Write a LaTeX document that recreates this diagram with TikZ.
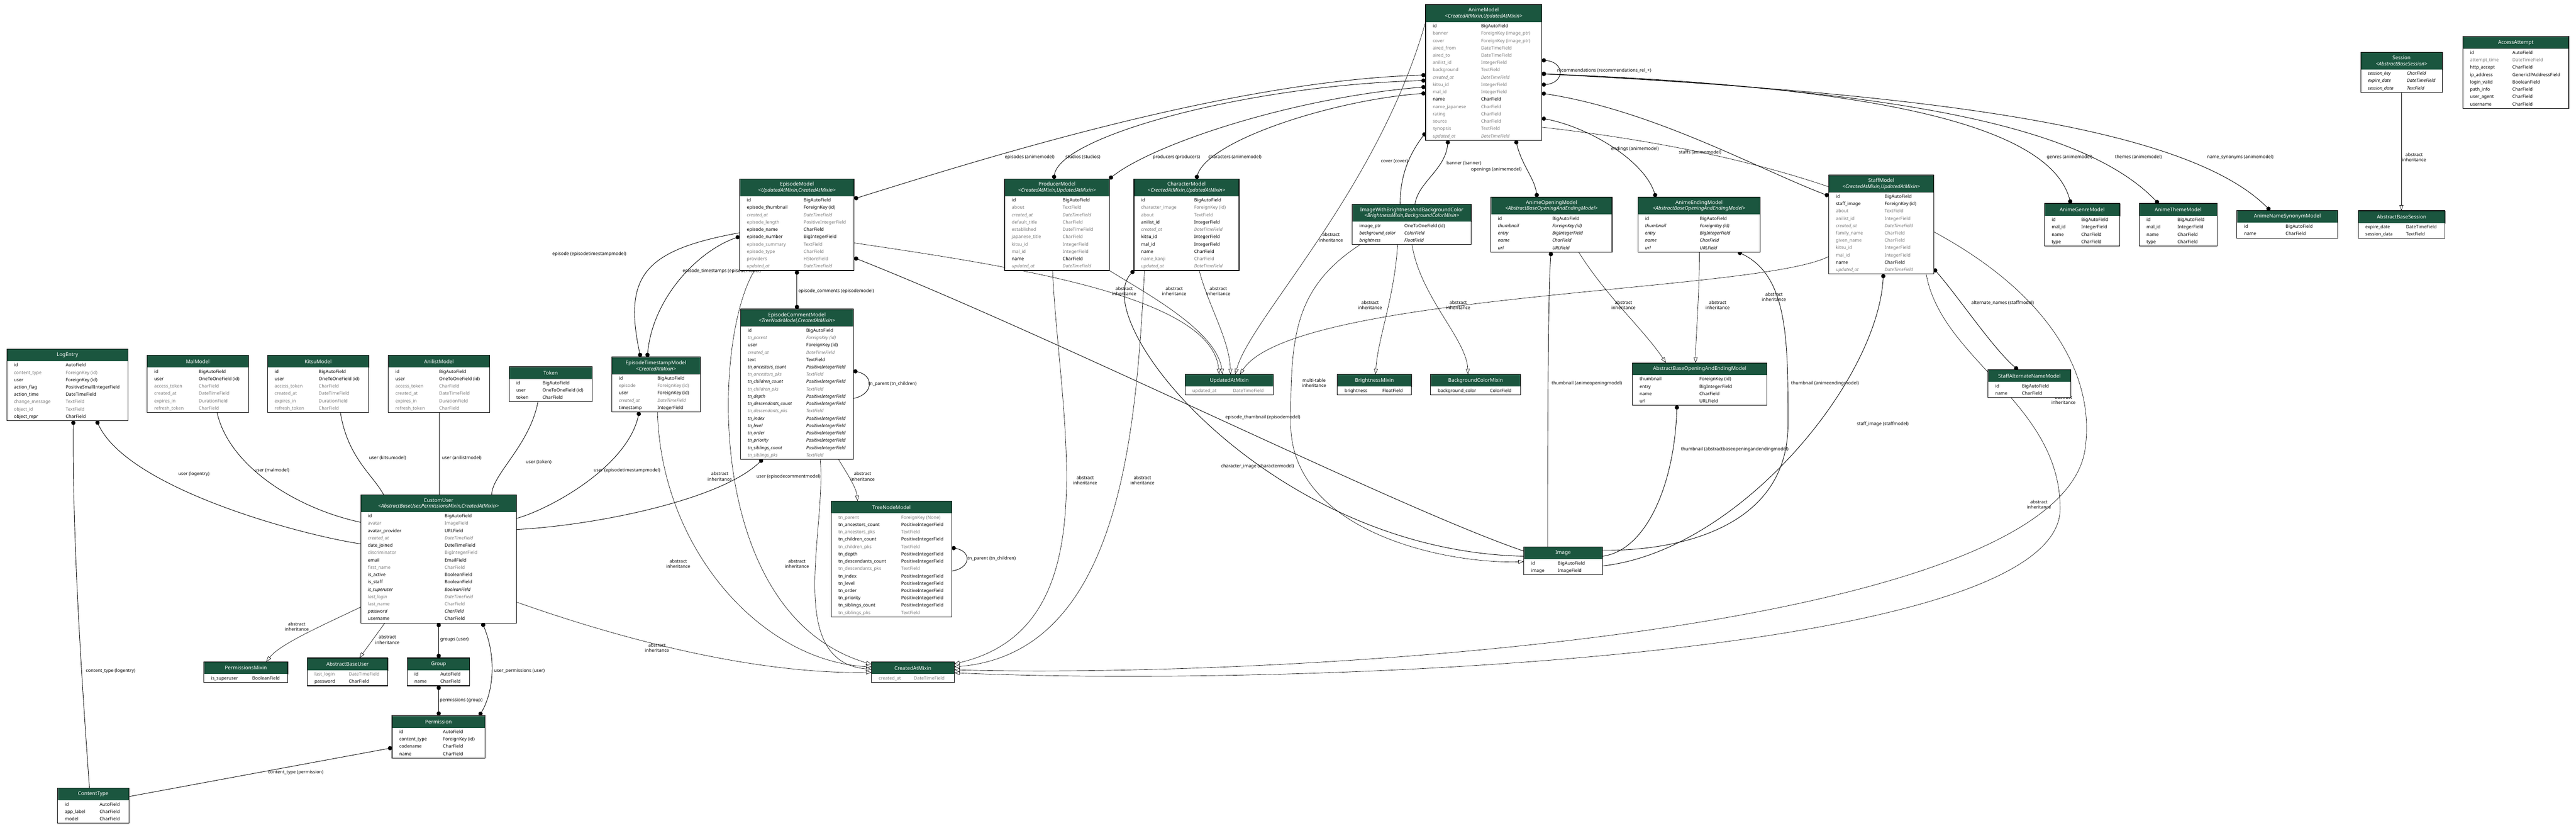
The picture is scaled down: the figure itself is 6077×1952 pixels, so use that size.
\documentclass[tikz,border=0pt]{standalone}
\usepackage{fontspec}
\setmainfont{Noto Sans}
\usepackage{array}
\usetikzlibrary{positioning,arrows.meta,backgrounds}

\definecolor{hdrgreen}{HTML}{1B563F}
\definecolor{fieldgrey}{HTML}{7B7B7B}

% field rows: n normal, b bold, i italic, g grey
\newcommand{\Fn}[2]{\mbox{#1} & \mbox{#2}\\}
\newcommand{\Fb}[2]{\mbox{\bfseries #1} & \mbox{\bfseries #2}\\}
\newcommand{\Fi}[2]{\mbox{\itshape #1} & \mbox{\itshape #2}\\}
\newcommand{\Fbi}[2]{\mbox{\bfseries\itshape #1} & \mbox{\bfseries\itshape #2}\\}
\newcommand{\Fg}[2]{\mbox{\color{fieldgrey}#1} & \mbox{\color{fieldgrey}#2}\\}
\newcommand{\Fgb}[2]{\mbox{\color{fieldgrey}\bfseries #1} & \mbox{\color{fieldgrey}\bfseries #2}\\}
\newcommand{\Fgi}[2]{\mbox{\color{fieldgrey}\itshape #1} & \mbox{\color{fieldgrey}\itshape #2}\\}
\newcommand{\Fgbi}[2]{\mbox{\color{fieldgrey}\bfseries\itshape #1} & \mbox{\color{fieldgrey}\bfseries\itshape #2}\\}
\newcommand{\oauthrows}{\Fb{id}{BigAutoField}\Fb{user}{OneToOneField (id)}\Fg{access\_token}{CharField}%
  \Fg{created\_at}{DateTimeField}\Fg{expires\_in}{DurationField}\Fg{refresh\_token}{CharField}}

% #1 name  #2 left  #3 top  #4 width  #5 type column  #6 header height  #7 header  #8 fields
\newcommand{\dbtable}[8]{%
  \node[tblhead, minimum width=#4pt, minimum height=#6pt] (#1) at (#2,#3) {#7};
  \node[tblbody, below=0pt of #1] (#1B) {\begin{tabular}{@{\hspace{17pt}}p{\dimexpr#5pt-17pt\relax}@{}p{\dimexpr#4pt-#5pt\relax}@{}}#8\end{tabular}};
  \draw[tblframe] (#1.north west) rectangle (#1B.south east);
}

\tikzset{
  tblhead/.style={anchor=north west, fill=hdrgreen, draw=black!50, text=white, align=center,
    inner xsep=1pt, inner ysep=1pt, outer sep=0pt, font=\fontsize{12}{14}\selectfont\bfseries},
  tblbody/.style={fill=white, inner xsep=0pt, inner ysep=1pt, outer sep=0pt,
    font=\fontsize{10.7}{17.3}\selectfont},
  tblframe/.style={line width=1.4pt, black},
  rel/.style={line width=1.1pt},
  fk/.style={rel, arrows={Circle[length=10pt]-}},
  m2m/.style={rel, arrows={Circle[length=10pt]-Circle[length=10pt]}},
  onetoone/.style={rel},
  inherit/.style={line width=0.8pt, arrows={-Triangle[open, length=13pt, width=9pt]}},
  lbl/.style={font=\fontsize{10.7}{12.5}\selectfont, inner sep=0pt, align=center},
}

\begin{document}
\begin{tikzpicture}[x=1pt, y=-1pt]
  \useasboundingbox (0,0) rectangle (6077,1952);

  % anime app
  \dbtable{anime}{3363}{11}{274}{131}{41}{AnimeModel\\{\itshape <CreatedAtMixin,UpdatedAtMixin>}}{%
    \Fb{id}{BigAutoField}
    \Fgb{banner}{ForeignKey (image\_ptr)}
    \Fgb{cover}{ForeignKey (image\_ptr)}
    \Fg{aired\_from}{DateTimeField}
    \Fg{aired\_to}{DateTimeField}
    \Fg{anilist\_id}{IntegerField}
    \Fg{background}{TextField}
    \Fgi{created\_at}{DateTimeField}
    \Fg{kitsu\_id}{IntegerField}
    \Fg{mal\_id}{IntegerField}
    \Fn{name}{CharField}
    \Fg{name\_japanese}{CharField}
    \Fg{rating}{CharField}
    \Fg{source}{CharField}
    \Fg{synopsis}{TextField}
    \Fgi{updated\_at}{DateTimeField}}
  \dbtable{episode}{1745}{422}{270}{151}{41}{EpisodeModel\\{\itshape <UpdatedAtMixin,CreatedAtMixin>}}{%
    \Fb{id}{BigAutoField}
    \Fb{episode\_thumbnail}{ForeignKey (id)}
    \Fgi{created\_at}{DateTimeField}
    \Fg{episode\_length}{PositiveIntegerField}
    \Fn{episode\_name}{CharField}
    \Fn{episode\_number}{BigIntegerField}
    \Fg{episode\_summary}{TextField}
    \Fg{episode\_type}{CharField}
    \Fg{providers}{HStoreField}
    \Fgi{updated\_at}{DateTimeField}}
  \dbtable{producer}{2370}{422}{247}{137}{41}{ProducerModel\\{\itshape <CreatedAtMixin,UpdatedAtMixin>}}{%
    \Fb{id}{BigAutoField}
    \Fg{about}{TextField}
    \Fgi{created\_at}{DateTimeField}
    \Fg{default\_title}{CharField}
    \Fg{established}{DateTimeField}
    \Fg{japanese\_title}{CharField}
    \Fg{kitsu\_id}{IntegerField}
    \Fg{mal\_id}{IntegerField}
    \Fn{name}{CharField}
    \Fgi{updated\_at}{DateTimeField}}
  \dbtable{character}{2675}{422}{248}{142}{41}{CharacterModel\\{\itshape <CreatedAtMixin,UpdatedAtMixin>}}{%
    \Fb{id}{BigAutoField}
    \Fgb{character\_image}{ForeignKey (id)}
    \Fg{about}{TextField}
    \Fn{anilist\_id}{IntegerField}
    \Fgi{created\_at}{DateTimeField}
    \Fn{kitsu\_id}{IntegerField}
    \Fn{mal\_id}{IntegerField}
    \Fn{name}{CharField}
    \Fg{name\_kanji}{CharField}
    \Fgi{updated\_at}{DateTimeField}}
  \dbtable{imgbright}{3190}{482}{281}{123}{41}{ImageWithBrightnessAndBackgroundColor\\{\itshape <BrightnessMixin,BackgroundColorMixin>}}{%
    \Fb{image\_ptr}{OneToOneField (id)}
    \Fi{background\_color}{ColorField}
    \Fi{brightness}{FloatField}}
  \dbtable{opening}{3517}{465}{286}{145}{41}{AnimeOpeningModel\\{\itshape <AbstractBaseOpeningAndEndingModel>}}{%
    \Fb{id}{BigAutoField}
    \Fbi{thumbnail}{ForeignKey (id)}
    \Fi{entry}{BigIntegerField}
    \Fi{name}{CharField}
    \Fi{url}{URLField}}
  \dbtable{ending}{3864}{465}{288}{146}{41}{AnimeEndingModel\\{\itshape <AbstractBaseOpeningAndEndingModel>}}{%
    \Fb{id}{BigAutoField}
    \Fbi{thumbnail}{ForeignKey (id)}
    \Fi{entry}{BigIntegerField}
    \Fi{name}{CharField}
    \Fi{url}{URLField}}
  \dbtable{staff}{4314}{413}{248}{132}{41}{StaffModel\\{\itshape <CreatedAtMixin,UpdatedAtMixin>}}{%
    \Fb{id}{BigAutoField}
    \Fb{staff\_image}{ForeignKey (id)}
    \Fg{about}{TextField}
    \Fg{anilist\_id}{IntegerField}
    \Fgi{created\_at}{DateTimeField}
    \Fg{family\_name}{CharField}
    \Fg{given\_name}{CharField}
    \Fg{kitsu\_id}{IntegerField}
    \Fg{mal\_id}{IntegerField}
    \Fn{name}{CharField}
    \Fgi{updated\_at}{DateTimeField}}
  \dbtable{genre}{4823}{480}{178}{87}{29}{AnimeGenreModel}{%
    \Fb{id}{BigAutoField}\Fn{mal\_id}{IntegerField}\Fn{name}{CharField}\Fn{type}{CharField}}
  \dbtable{theme}{5047}{480}{183}{90}{29}{AnimeThemeModel}{%
    \Fb{id}{BigAutoField}\Fn{mal\_id}{IntegerField}\Fn{name}{CharField}\Fn{type}{CharField}}
  \dbtable{synonym}{5277}{496}{238}{115}{29}{AnimeNameSynonymModel}{%
    \Fb{id}{BigAutoField}\Fn{name}{CharField}}
  \dbtable{staffalt}{4690}{872}{195}{80}{29}{StaffAlternateNameModel}{%
    \Fb{id}{BigAutoField}\Fn{name}{CharField}}
  \dbtable{baseopen}{3851}{856}{317}{158}{29}{AbstractBaseOpeningAndEndingModel}{%
    \Fb{thumbnail}{ForeignKey (id)}\Fn{entry}{BigIntegerField}\Fn{name}{CharField}\Fn{url}{URLField}}
  \dbtable{image}{3595}{1290}{185}{80}{29}{Image}{%
    \Fb{id}{BigAutoField}\Fn{image}{ImageField}}
  \dbtable{updated}{2796}{883}{208}{113}{29}{UpdatedAtMixin}{\Fg{updated\_at}{DateTimeField}}
  \dbtable{brightness}{3155}{883}{175}{106}{29}{BrightnessMixin}{\Fn{brightness}{FloatField}}
  \dbtable{bgcolor}{3375}{883}{212}{140}{29}{BackgroundColorMixin}{\Fn{background\_color}{ColorField}}

  % sessions and axes
  \dbtable{session}{5569}{123}{193}{109}{41}{Session\\{\itshape <AbstractBaseSession>}}{%
    \Fbi{session\_key}{CharField}\Fi{expire\_date}{DateTimeField}\Fi{session\_data}{TextField}}
  \dbtable{basesession}{5563}{497}{205}{113}{29}{AbstractBaseSession}{%
    \Fn{expire\_date}{DateTimeField}\Fn{session\_data}{TextField}}
  \dbtable{access}{5810}{86}{250}{117}{29}{AccessAttempt}{%
    \Fb{id}{AutoField}
    \Fg{attempt\_time}{DateTimeField}
    \Fn{http\_accept}{CharField}
    \Fn{ip\_address}{GenericIPAddressField}
    \Fn{login\_valid}{BooleanField}
    \Fn{path\_info}{CharField}
    \Fn{user\_agent}{CharField}
    \Fn{username}{CharField}}

  % users, comments, admin
  \dbtable{logentry}{16}{823}{286}{139}{29}{LogEntry}{%
    \Fb{id}{AutoField}
    \Fg{content\_type}{ForeignKey (id)}
    \Fb{user}{ForeignKey (id)}
    \Fn{action\_flag}{PositiveSmallIntegerField}
    \Fn{action\_time}{DateTimeField}
    \Fg{change\_message}{TextField}
    \Fg{object\_id}{TextField}
    \Fn{object\_repr}{CharField}}
  \dbtable{mal}{347}{838}{239}{122}{29}{MalModel}{\oauthrows}
  \dbtable{kitsu}{631}{838}{239}{121}{29}{KitsuModel}{\oauthrows}
  \dbtable{anilist}{916}{838}{239}{120}{29}{AnilistModel}{\oauthrows}
  \dbtable{token}{1201}{865}{196}{79}{29}{Token}{%
    \Fn{id}{BigAutoField}\Fb{user}{OneToOneField (id)}\Fn{token}{CharField}}
  \dbtable{timestamp}{1443}{842}{209}{108}{41}{EpisodeTimestampModel\\{\itshape <CreatedAtMixin>}}{%
    \Fb{id}{BigAutoField}
    \Fgb{episode}{ForeignKey (id)}
    \Fb{user}{ForeignKey (id)}
    \Fgi{created\_at}{DateTimeField}
    \Fn{timestamp}{IntegerField}}
  \dbtable{comment}{1747}{729}{266}{155}{41}{EpisodeCommentModel\\{\itshape <TreeNodeModel,CreatedAtMixin>}}{%
    \Fb{id}{BigAutoField}
    \Fgbi{tn\_parent}{ForeignKey (id)}
    \Fb{user}{ForeignKey (id)}
    \Fgi{created\_at}{DateTimeField}
    \Fn{text}{TextField}
    \Fi{tn\_ancestors\_count}{PositiveIntegerField}
    \Fgi{tn\_ancestors\_pks}{TextField}
    \Fi{tn\_children\_count}{PositiveIntegerField}
    \Fgi{tn\_children\_pks}{TextField}
    \Fi{tn\_depth}{PositiveIntegerField}
    \Fi{tn\_descendants\_count}{PositiveIntegerField}
    \Fgi{tn\_descendants\_pks}{TextField}
    \Fi{tn\_index}{PositiveIntegerField}
    \Fi{tn\_level}{PositiveIntegerField}
    \Fi{tn\_order}{PositiveIntegerField}
    \Fi{tn\_priority}{PositiveIntegerField}
    \Fi{tn\_siblings\_count}{PositiveIntegerField}
    \Fgi{tn\_siblings\_pks}{TextField}}
  \dbtable{treenode}{1961}{1182}{284}{165}{29}{TreeNodeModel}{%
    \Fgb{tn\_parent}{ForeignKey (None)}
    \Fn{tn\_ancestors\_count}{PositiveIntegerField}
    \Fg{tn\_ancestors\_pks}{TextField}
    \Fn{tn\_children\_count}{PositiveIntegerField}
    \Fg{tn\_children\_pks}{TextField}
    \Fn{tn\_depth}{PositiveIntegerField}
    \Fn{tn\_descendants\_count}{PositiveIntegerField}
    \Fg{tn\_descendants\_pks}{TextField}
    \Fn{tn\_index}{PositiveIntegerField}
    \Fn{tn\_level}{PositiveIntegerField}
    \Fn{tn\_order}{PositiveIntegerField}
    \Fn{tn\_priority}{PositiveIntegerField}
    \Fn{tn\_siblings\_count}{PositiveIntegerField}
    \Fg{tn\_siblings\_pks}{TextField}}
  \dbtable{created}{2056}{1561}{195}{100}{29}{CreatedAtMixin}{\Fg{created\_at}{DateTimeField}}
  \dbtable{customuser}{851}{1167}{367}{198}{41}{CustomUser\\{\itshape <AbstractBaseUser,PermissionsMixin,CreatedAtMixin>}}{%
    \Fb{id}{BigAutoField}
    \Fg{avatar}{ImageField}
    \Fn{avatar\_provider}{URLField}
    \Fgi{created\_at}{DateTimeField}
    \Fn{date\_joined}{DateTimeField}
    \Fg{discriminator}{BigIntegerField}
    \Fn{email}{EmailField}
    \Fg{first\_name}{CharField}
    \Fn{is\_active}{BooleanField}
    \Fn{is\_staff}{BooleanField}
    \Fi{is\_superuser}{BooleanField}
    \Fgi{last\_login}{DateTimeField}
    \Fg{last\_name}{CharField}
    \Fi{password}{CharField}
    \Fn{username}{CharField}}
  \dbtable{permmixin}{481}{1561}{198}{114}{29}{PermissionsMixin}{\Fn{is\_superuser}{BooleanField}}
  \dbtable{abuser}{725}{1552}{190}{98}{29}{AbstractBaseUser}{%
    \Fg{last\_login}{DateTimeField}\Fn{password}{CharField}}
  \dbtable{group}{961}{1552}{147}{78}{29}{Group}{\Fb{id}{AutoField}\Fn{name}{CharField}}
  \dbtable{permission}{925}{1688}{219}{120}{29}{Permission}{%
    \Fb{id}{AutoField}\Fb{content\_type}{ForeignKey (id)}\Fn{codename}{CharField}\Fn{name}{CharField}}
  \dbtable{contenttype}{136}{1859}{168}{99}{29}{ContentType}{%
    \Fb{id}{AutoField}\Fn{app\_label}{CharField}\Fn{model}{CharField}}

  \begin{scope}[on background layer]
    \fill[white] (0,0) rectangle (6077,1952);

    % relations of AnimeModel
    \draw[m2m] (episodeB.east |- 0,469) .. controls (2300,380) and (2900,190) .. (animeB.west |- 0,177)
      node[lbl, at={(2370,371)}, anchor=west] {episodes (animemodel)};
    \draw[m2m] (producer.north -| 2486,0) .. controls (2500,320) and (2950,200) .. (animeB.west |- 0,190)
      node[lbl, at={(2513,371)}, anchor=west] {studios (studios)};
    \draw[m2m] (producer.north east) .. controls (2720,340) and (3050,230) .. (animeB.west |- 0,205)
      node[lbl, at={(2719,371)}, anchor=west] {producers (producers)};
    \draw[m2m] (character.north -| 2822,0) .. controls (2850,330) and (3150,235) .. (animeB.west |- 0,220)
      node[lbl, at={(2850,371)}, anchor=west] {characters (animemodel)};
    \draw[fk] (animeB.west |- 0,313) .. controls (3320,370) and (3303,420) .. (imgbright.north -| 3303,0)
      node[lbl, at={(3322,380)}, anchor=east] {cover (cover)};
    \draw[fk] (animeB.south -| 3416,0) .. controls (3410,400) and (3345,430) .. (imgbright.north -| 3338,0)
      node[lbl, at={(3412,385)}, anchor=west] {banner (banner)};
    \draw[m2m] (animeB.south -| 3576,0) .. controls (3590,390) and (3620,420) .. (opening.north -| 3626,0)
      node[lbl, at={(3590,400)}, anchor=east] {openings (animemodel)};
    \draw[m2m] (animeB.east |- 0,279) .. controls (3750,300) and (3880,380) .. (ending.north -| 3906,0)
      node[lbl, at={(3800,352)}, anchor=west] {endings (animemodel)};
    \draw[m2m] (animeB.east |- 0,220) .. controls (3900,260) and (4150,400) .. (staffB.west |- 0,462)
      node[lbl, at={(3960,360)}, anchor=west] {staffs (animemodel)};
    \draw[m2m] (animeB.east |- 0,142) .. controls (3692,146) and (3692,196) .. (animeB.east |- 0,200)
      node[lbl, at={(3673,166)}, anchor=west] {recommendations (recommendations\_rel\_+)};
    \draw[m2m] (animeB.east |- 0,174) .. controls (4300,200) and (4830,270) .. (genre.north -| 4885,0)
      node[lbl, at={(4828,371)}, anchor=west] {genres (animemodel)};
    \draw[m2m] (animeB.east |- 0,174) .. controls (4400,210) and (4900,280) .. (theme.north -| 5092,0)
      node[lbl, at={(4989,371)}, anchor=west] {themes (animemodel)};
    \draw[m2m] (animeB.east |- 0,174) .. controls (4500,220) and (5150,290) .. (synonym.north -| 5355,0)
      node[lbl, at={(5206,371)}, anchor=west] {name\_synonyms (animemodel)};

    % inheritance into UpdatedAtMixin
    \draw[inherit] (episodeB.east |- 0,573) .. controls (2400,630) and (2860,700) .. (updated.north -| 2876,0)
      node[lbl, at={(2652,687)}] {abstract\\inheritance};
    \draw[inherit] (producerB.south east) .. controls (2700,690) and (2870,780) .. (updated.north -| 2884,0)
      node[lbl, at={(2770,687)}] {abstract\\inheritance};
    \draw[inherit] (characterB.south -| 2829,0) .. controls (2850,720) and (2900,800) .. (updated.north -| 2903,0)
      node[lbl, at={(2874,687)}] {abstract\\inheritance};
    \draw[inherit] (anime.south west) .. controls (3250,450) and (2950,750) .. (updated.north -| 2914,0)
      node[lbl, at={(3140,560)}] {abstract\\inheritance};
    \draw[inherit] (staffB.west |- 0,605) .. controls (4150,690) and (3050,690) .. (updated.north -| 2925,0)
      node[lbl, at={(4185,700)}] {abstract\\inheritance};

    % inheritance into CreatedAtMixin
    \draw[inherit] (producerB.south -| 2483,0) .. controls (2500,1000) and (2620,1480) .. (created.east |- 0,1566)
      node[lbl, at={(2560,1133)}] {abstract\\inheritance};
    \draw[inherit] (characterB.south -| 2700,0) .. controls (2680,1000) and (2650,1540) .. (created.east |- 0,1573)
      node[lbl, at={(2695,1133)}] {abstract\\inheritance};
    \draw[inherit] (animeB.east |- 0,300) .. controls (4700,420) and (4950,800) .. (4920,1050)
      .. controls (4880,1500) and (3000,1600) .. (created.east |- 0,1580)
      node[lbl, at={(4868,943)}] {abstract\\inheritance};
    \draw[inherit] (staffB.south -| 4544,0) .. controls (4580,850) and (4860,950) .. (4860,1200)
      .. controls (4860,1560) and (3000,1620) .. (created.east |- 0,1587)
      node[lbl, at={(4810,1190)}] {abstract\\inheritance};
    \draw[inherit] (episodeB.south -| 1780,0) .. controls (1680,800) and (1660,1450) .. (created.west |- 0,1567)
      node[lbl, at={(1698,1124)}] {abstract\\inheritance};
    \draw[inherit] (timestampB.south -| 1551,0) .. controls (1560,1300) and (1800,1560) .. (created.west |- 0,1573)
      node[lbl, at={(1600,1330)}] {abstract\\inheritance};
    \draw[inherit] (commentB.south -| 1935,0) .. controls (1950,1250) and (1850,1560) .. (created.west |- 0,1579)
      node[lbl, at={(1880,1330)}] {abstract\\inheritance};
    \draw[inherit] (customuserB.east |- 0,1420) .. controls (1500,1520) and (1800,1590) .. (created.west |- 0,1586)
      node[lbl, at={(1550,1528)}] {abstract\\inheritance};
    \draw[inherit] (commentB.south -| 1978,0) .. controls (2000,1120) and (2020,1150) .. (treenode.north -| 2023,0)
      node[lbl, at={(2035,1124)}] {abstract\\inheritance};

    % tree parents
    \draw[fk] (commentB.east |- 0,875) .. controls (2062,885) and (2062,930) .. (commentB.east |- 0,940)
      node[lbl, at={(2048,906)}, anchor=west] {tn\_parent (tn\_children)};
    \draw[fk] (treenodeB.east |- 0,1292) .. controls (2292,1300) and (2292,1340) .. (treenodeB.east |- 0,1347)
      node[lbl, at={(2282,1318)}, anchor=west] {tn\_parent (tn\_children)};

    % episodes
    \draw[m2m] (episodeB.south -| 1880,0) -- (comment.north -| 1880,0)
      node[lbl, at={(1883,687)}, anchor=west] {episode\_comments (episodemodel)};
    \draw[m2m] (episodeB.west |- 0,558) .. controls (1650,590) and (1540,700) .. (timestamp.north -| 1527,0)
      node[lbl, at={(1610,640)}, anchor=west] {episode\_timestamps (episodemodel)};
    \draw[fk] (timestamp.north -| 1511,0) .. controls (1470,650) and (1520,590) .. (episodeB.west |- 0,549)
      node[lbl, at={(1478,600)}, anchor=east] {episode (episodetimestampmodel)};

    % images
    \draw[fk] (episodeB.east |- 0,608) .. controls (2500,800) and (3300,1200) .. (image.west |- 0,1300)
      node[lbl, at={(2890,985)}, anchor=west] {episode\_thumbnail (episodemodel)};
    \draw[fk] (characterB.south west) .. controls (2560,760) and (3000,1300) .. (image.west |- 0,1312)
      node[lbl, at={(2880,1100)}, anchor=west] {character\_image (charactermodel)};
    \draw[inherit] (imgbrightB.south -| 3209,0) .. controls (3050,680) and (3045,800) .. (3045,1000)
      .. controls (3045,1250) and (3400,1330) .. (image.west |- 0,1325)
      node[lbl, at={(3100,903)}] {multi-table\\inheritance};
    \draw[inherit] (imgbrightB.south -| 3297,0) .. controls (3290,700) and (3250,800) .. (brightness.north -| 3245,0)
      node[lbl, at={(3232,720)}] {abstract\\inheritance};
    \draw[inherit] (imgbrightB.south -| 3331,0) .. controls (3350,700) and (3460,800) .. (bgcolor.north -| 3463,0)
      node[lbl, at={(3440,720)}] {abstract\\inheritance};
    \draw[fk] (openingB.south -| 3659,0) .. controls (3651,700) and (3651,1100) .. (image.north -| 3651,0)
      node[lbl, at={(3660,905)}, anchor=west] {thumbnail (animeopeningmodel)};
    \draw[fk] (endingB.south -| 4100,0) .. controls (4218,650) and (4218,800) .. (4218,1000)
      .. controls (4218,1250) and (3950,1300) .. (image.east |- 0,1298)
      node[lbl, at={(4225,905)}, anchor=west] {thumbnail (animeendingmodel)};
    \draw[inherit] (openingB.south -| 3724,0) .. controls (3790,700) and (3880,780) .. (baseopen.north -| 3930,0)
      node[lbl, at={(3830,720)}] {abstract\\inheritance};
    \draw[inherit] (endingB.south -| 4009,0) .. controls (4009,700) and (4000,800) .. (baseopen.north -| 4000,0)
      node[lbl, at={(4052,720)}] {abstract\\inheritance};
    \draw[fk] (baseopenB.south -| 3956,0) .. controls (3950,1150) and (3880,1300) .. (image.east |- 0,1312)
      node[lbl, at={(3965,1060)}, anchor=west] {thumbnail (abstractbaseopeningandendingmodel)};
    \draw[fk] (staffB.south -| 4443,0) .. controls (4430,900) and (4100,1300) .. (image.east |- 0,1335)
      node[lbl, at={(4380,1000)}, anchor=west] {staff\_image (staffmodel)};
    \draw[m2m] (staffB.east |- 0,634) .. controls (4620,700) and (4700,820) .. (staffalt.north -| 4760,0)
      node[lbl, at={(4650,715)}, anchor=west] {alternate\_names (staffmodel)};

    % sessions
    \draw[inherit] (sessionB.south -| 5665,0) -- (basesession.north -| 5665,0)
      node[lbl, at={(5695,371)}] {abstract\\inheritance};

    % users
    \draw[fk] (logentryB.south -| 228,0) .. controls (300,1150) and (700,1260) .. (customuserB.west |- 0,1283)
      node[lbl, at={(420,1118)}, anchor=west] {user (logentry)};
    \draw[fk] (logentryB.south -| 173,0) .. controls (170,1300) and (200,1700) .. (contenttype.north -| 211,0)
      node[lbl, at={(202,1583)}, anchor=west] {content\_type (logentry)};
    \draw[onetoone] (malB.south -| 512,0) .. controls (540,1100) and (700,1200) .. (customuserB.west |- 0,1232)
      node[lbl, at={(600,1110)}, anchor=west] {user (malmodel)};
    \draw[onetoone] (kitsuB.south -| 803,0) .. controls (820,1080) and (880,1120) .. (customuser.north -| 905,0)
      node[lbl, at={(870,1080)}, anchor=west] {user (kitsumodel)};
    \draw[onetoone] (anilistB.south -| 1036,0) -- (customuser.north -| 1036,0)
      node[lbl, at={(1042,1080)}, anchor=west] {user (anilistmodel)};
    \draw[onetoone] (tokenB.south -| 1269,0) .. controls (1250,1050) and (1160,1120) .. (customuser.north -| 1160,0)
      node[lbl, at={(1240,1090)}, anchor=west] {user (token)};
    \draw[fk] (timestampB.south -| 1508,0) .. controls (1480,1100) and (1300,1200) .. (customuserB.east |- 0,1223)
      node[lbl, at={(1400,1110)}, anchor=west] {user (episodetimestampmodel)};
    \draw[fk] (commentB.south -| 1799,0) .. controls (1700,1180) and (1400,1240) .. (customuserB.east |- 0,1249)
      node[lbl, at={(1784,1124)}, anchor=west] {user (episodecommentmodel)};
    \draw[inherit] (customuserB.south -| 908,0) -- (abuser.north -| 848,0)
      node[lbl, at={(914,1509)}] {abstract\\inheritance};
    \draw[inherit] (customuserB.west |- 0,1432) .. controls (750,1480) and (660,1520) .. (permmixin.north -| 628,0)
      node[lbl, at={(700,1478)}] {abstract\\inheritance};
    \draw[m2m] (customuserB.south -| 1035,0) -- (group.north -| 1035,0)
      node[lbl, at={(1038,1509)}, anchor=west] {groups (user)};
    \draw[m2m] (customuserB.south -| 1138,0) .. controls (1175,1560) and (1160,1640) .. (permission.north -| 1131,0)
      node[lbl, at={(1165,1583)}, anchor=west] {user\_permissions (user)};
    \draw[m2m] (groupB.south -| 1035,0) -- (permission.north -| 1035,0)
      node[lbl, at={(1037,1652)}, anchor=west] {permissions (group)};
    \draw[fk] (permissionB.west |- 0,1764) -- (contenttype.east |- 0,1879)
      node[lbl, at={(632,1822)}, anchor=west] {content\_type (permission)};
  \end{scope}
\end{tikzpicture}
\end{document}
